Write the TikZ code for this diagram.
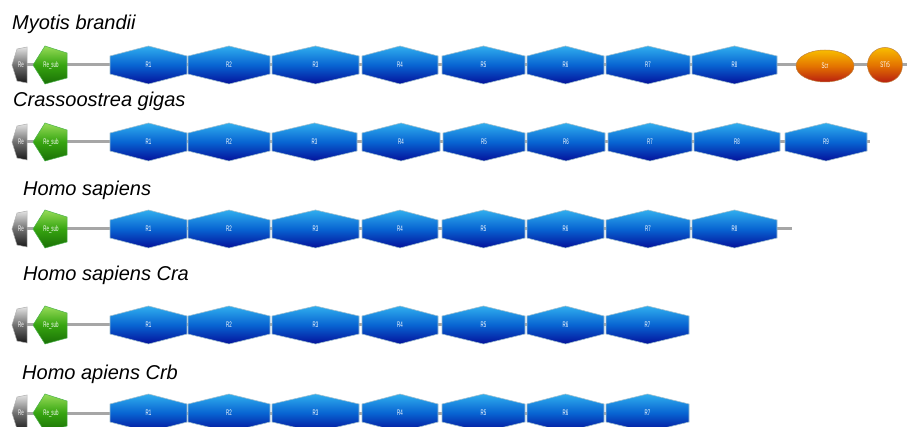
\documentclass[tikz,border=0pt]{standalone}
\usepackage{fontspec}
\setmainfont{Liberation Sans}
\pgfdeclarelayer{background}
\pgfsetlayers{background,main}
\definecolor{linegray}{HTML}{A6A6A6}
\definecolor{edgeblue}{HTML}{9FBFD0}
\definecolor{blueT}{HTML}{30AEEE}
\definecolor{blueM}{HTML}{0864D2}
\definecolor{blueB}{HTML}{04109A}
\definecolor{grayT}{HTML}{E2E2E2}
\definecolor{grayM}{HTML}{707070}
\definecolor{grayB}{HTML}{1A1A1A}
\definecolor{greenT}{HTML}{96DC58}
\definecolor{greenM}{HTML}{36A410}
\definecolor{greenB}{HTML}{1A7006}
\definecolor{orangeT}{HTML}{F8BC00}
\definecolor{orangeM}{HTML}{E47400}
\definecolor{orangeB}{HTML}{B81E10}
\tikzset{
  backbone/.style={draw=linegray, line width=3pt},
  bluedom/.style={draw=edgeblue, line width=0.6pt, top color=blueT, bottom color=blueB, middle color=blueM},
  graydom/.style={draw=gray!60, line width=0.5pt, top color=grayT, bottom color=grayB, middle color=grayM},
  greendom/.style={draw=green!40!gray, line width=0.5pt, top color=greenT, bottom color=greenB, middle color=greenM},
  orangedom/.style={draw=orange!50!gray, line width=0.5pt, top color=orangeT, bottom color=orangeB, middle color=orangeM},
  dlabel/.style={text=white, font=\fontsize{8}{8}\selectfont, inner sep=0pt},
  species/.style={font=\fontsize{20}{24}\selectfont\itshape, anchor=base west, inner sep=0pt}
}
\newcommand{\dlab}[1]{\scalebox{0.55}[1]{#1}}
% #1 prefix, #2 y, #3 line end x, #4 list of i/x1/x2
\newcommand{\protrow}[4]{%
  \coordinate (#1end) at (#3,#2);
  \path[graydom] (12,#2) -- (17,#2-16) -- (27,#2-18) -- (27,#2+18) -- (17,#2+16) -- cycle;
  \node[dlabel] (#1Re) at (21,#2) {\dlab{Re}};
  \path[greendom] (33,#2) -- (45,#2-19) -- (67,#2-12) -- (67,#2+13) -- (45,#2+19) -- cycle;
  \node[dlabel] (#1Resub) at (51,#2) {\dlab{Re\_sub}};
  \foreach \i/\a/\b in {#4}{
    \path[bluedom] (\a,#2-9) -- ({(\a+\b)/2},#2-19) -- (\b,#2-9) -- (\b,#2+9) -- ({(\a+\b)/2},#2+19) -- (\a,#2+9) -- cycle;
    \node[dlabel] (#1R\i) at ({(\a+\b)/2},#2) {\dlab{R\i}};
  }
  \begin{pgfonlayer}{background}
    \draw[backbone] (#1Re) -- (#1end);
  \end{pgfonlayer}
}
\begin{document}
\begin{tikzpicture}[x=1pt,y=-1pt]
\useasboundingbox (0,0) rectangle (907,427);
% titles
\node[species] (t1) at (12,29.5) {Myotis brandii};
\node[species] (t2) at (13,107) {Crassoostrea gigas};
\node[species] (t3) at (23,196) {Homo sapiens};
\node[species] (t4) at (23,281) {Homo sapiens Cra};
\node[species] (t5) at (22,379) {Homo apiens Crb};
% rows
\protrow{a}{65}{907}{1/110/187,2/188/270,3/272/359,4/362/438,5/442/525,6/527/604,7/606/690,8/692/777}
\path[orangedom] (825,66) ellipse [x radius=29pt, y radius=16pt];
\node[dlabel] (aScr) at (825,66) {\dlab{Scr}};
\path[orangedom] (885,65) circle [radius=17.5pt];
\node[dlabel] (aSTr) at (885,65) {\dlab{STr5}};
\protrow{b}{142}{870}{1/110/187,2/188/270,3/272/357,4/362/440,5/443/525,6/527/605,7/608/692,8/694/780,9/785/867}
\protrow{c}{229}{792}{1/110/187,2/188/270,3/272/359,4/362/438,5/442/525,6/527/604,7/606/690,8/692/777}
\protrow{d}{325}{689}{1/110/187,2/188/270,3/272/359,4/362/438,5/442/525,6/527/604,7/606/689}
\protrow{e}{413}{689}{1/110/187,2/188/270,3/272/359,4/362/438,5/442/525,6/527/604,7/606/689}
\end{tikzpicture}
\end{document}
